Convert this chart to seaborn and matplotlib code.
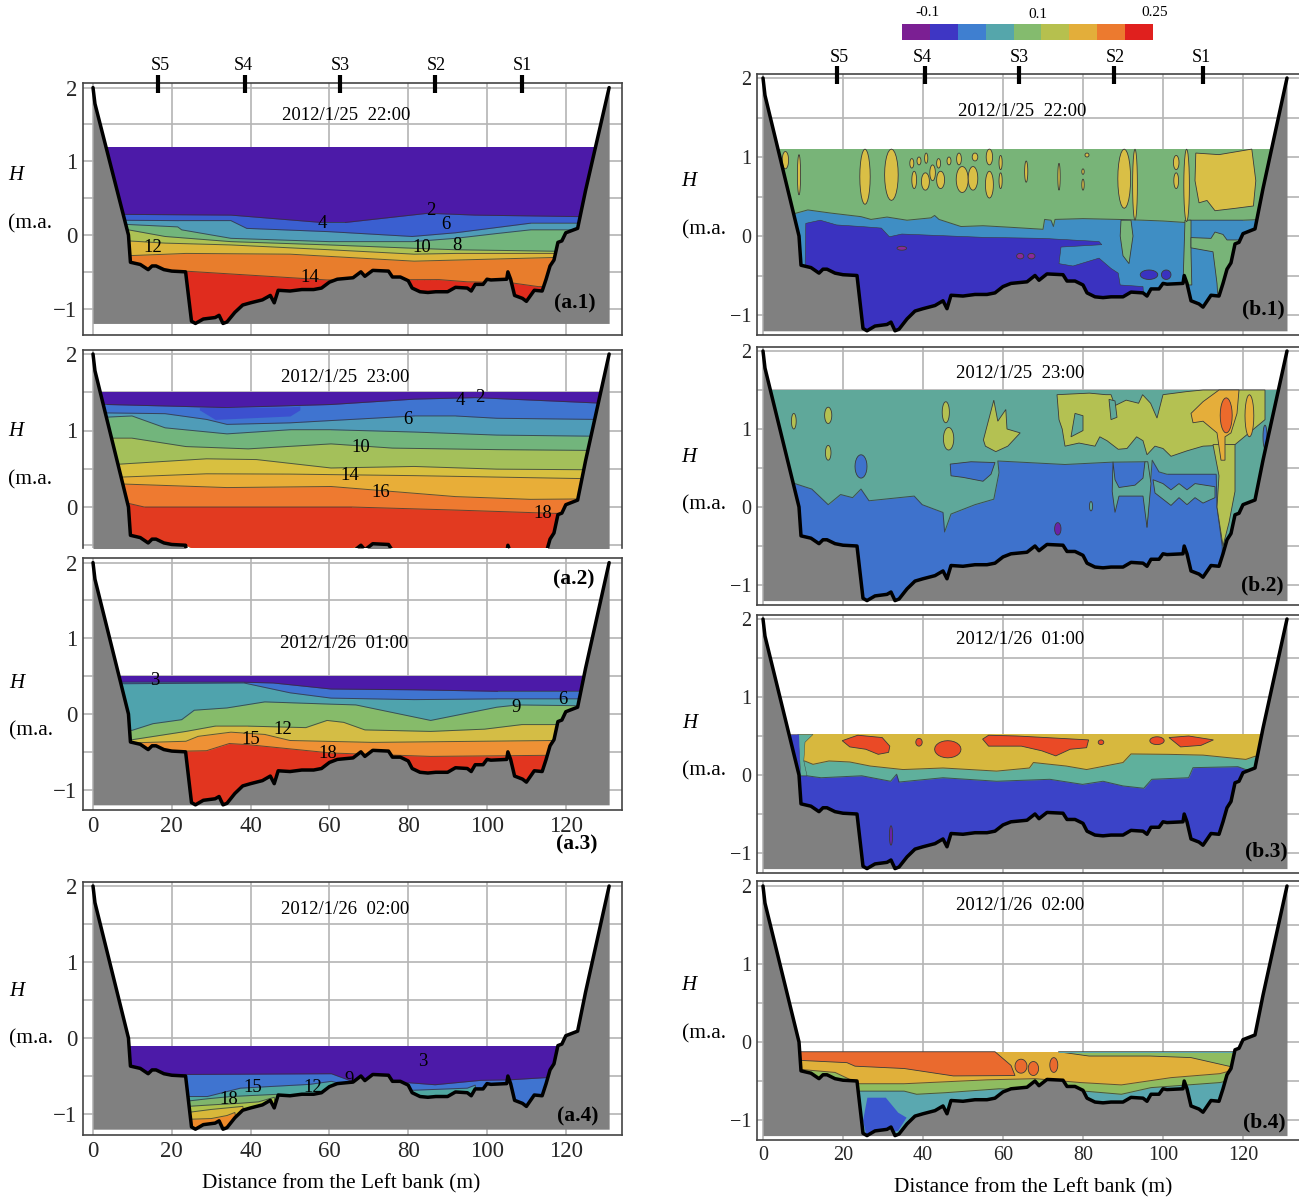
"""Temperature / salinity cross sections at eight times, left and right columns."""
import matplotlib
matplotlib.use('Agg')
import matplotlib.pyplot as plt
from matplotlib.colors import ListedColormap
from matplotlib.patches import Polygon
import numpy as np
import seaborn as sns

# river bed, shared by all panels
bed_x = [0, 0.5, 9, 9.5, 12, 14, 15, 16, 18, 20, 23.5, 25, 26, 28, 31, 32, 33, 34, 36, 38, 40, 43, 45, 46, 47,
         50, 53, 56, 58, 60, 62, 66, 68, 69, 71, 75, 76, 78, 80, 81, 83, 85, 87, 90, 92, 95, 96, 97, 99, 100,
         101, 105, 105.3, 106, 107, 109, 110, 112, 114, 115, 116, 117, 118, 119, 120, 123, 125, 128, 131]
bed_y = [2.0, 1.78, 0.0, -0.37, -0.40, -0.47, -0.42, -0.42, -0.47, -0.49, -0.5, -1.17, -1.2, -1.14, -1.12, -1.09,
         -1.2, -1.18, -1.05, -0.95, -0.92, -0.88, -0.82, -0.92, -0.75, -0.76, -0.74, -0.74, -0.72, -0.64, -0.6,
         -0.58, -0.5, -0.56, -0.48, -0.49, -0.57, -0.57, -0.62, -0.72, -0.77, -0.78, -0.77, -0.77, -0.71, -0.72,
         -0.76, -0.67, -0.67, -0.6, -0.61, -0.6, -0.5, -0.6, -0.82, -0.86, -0.9, -0.75, -0.76, -0.6, -0.42, -0.34,
         -0.1, -0.08, 0.03, 0.09, 0.6, 1.3, 2.0]

# station marks
st_names = ['S5', 'S4', 'S3', 'S2', 'S1']
st_a = [16.5, 38.6, 62.7, 86.8, 109]
st_b = [18.5, 40.5, 64, 87.8, 110]
st_a_text = [160, 243, 340, 436, 522]
st_b_text = [839, 922, 1019, 1115, 1201]

# left column: surface level, then layer interfaces from top to bottom
a1_surface = 1.2
a1_layers = [
    ([8, 35, 58, 64, 85, 97, 123], [.28, .27, .17, .17, .295, .27, .25]),
    ([8, 21.5, 35, 39, 60, 81, 92, 111, 123], [.2, .195, .195, .09, .045, -.02, .03, .16, .16]),
    ([8, 21.5, 22.5, 35, 60, 81, 92, 102.5, 111, 123], [.145, .11, .07, -.045, -.09, -.09, -.045, .02, .07, .07]),
    ([9, 18.3, 35, 60, 81.5, 92, 117], [.07, -.02, -.09, -.135, -.18, -.2, -.22]),
    ([9, 18.3, 35, 60, 81.5, 92, 117], [-.08, -.11, -.135, -.2, -.26, -.25, -.25]),
    ([9.4, 23.6, 50, 81.5, 117], [-.28, -.25, -.26, -.355, -.305]),
    ([23.4, 59.4, 87.8, 95, 105.7, 113], [-.49, -.61, -.605, -.635, -.645, -.7]),
]
a2_surface = 1.5
a2_layers = [
    ([3.6, 34, 60.4, 81.5, 97, 127.8], [1.34, 1.30, 1.34, 1.41, 1.43, 1.36]),
    ([3.6, 18.3, 28.8, 34, 50, 60.4, 81.5, 92, 102.5, 127.8], [1.23, 1.22, 1.145, 1.08, 1.10, 1.13, 1.19, 1.19, 1.16, 1.145]),
    ([3.6, 9.9, 18.3, 34, 50, 60.4, 81.5, 102.5, 127.8], [1.175, 1.19, 1.035, .956, 1.01, 1.01, .98, .94, .925]),
    ([3.6, 9.9, 23.6, 39.4, 60.4, 76, 102.5, 125.6], [.90, .90, .79, .76, .825, .77, .75, .74]),
    ([6.7, 28.8, 41.5, 60.4, 81.5, 102.5, 125.6], [.56, .63, .62, .51, .53, .495, .487]),
    ([6.7, 28.8, 50, 81.5, 125.6], [.39, .434, .43, .41, .37]),
    ([7.8, 34, 60.4, 92, 111, 123.6], [.30, .254, .268, .136, .10, .105]),
    ([8.8, 13, 65.7, 92, 117], [.05, 0, 0, -.04, -.083]),
]
a2_pocket_x = [27, 31, 50, 52.5]
a2_pocket_top = [1.30, 1.30, 1.31, 1.32]
a2_pocket_bot = [1.27, 1.145, 1.19, 1.27]
a3_surface = 0.5
a3_layers = [
    ([7.8, 38.3, 45.7, 60.4, 81.5, 102.5, 123.6], [.42, .42, .41, .33, .32, .30, .30]),
    ([7.8, 38.3, 50, 60.4, 81.5, 102.5, 123.6], [.40, .41, .28, .21, .19, .20, .20]),
    ([9.9, 15.2, 22.5, 25.7, 34, 43.6, 60.4, 66.7, 85.7, 102.5, 107.8, 122.5], [-.216, -.128, -.075, .05, .08, .16, .13, .12, -.085, .09, .12, .11]),
    ([9.9, 23.6, 31, 39.4, 54, 59.4, 63.6, 69, 85.7, 99.4, 108.8, 117.8], [-.34, -.23, -.16, -.16, -.18, -.085, -.11, -.21, -.23, -.2, -.14, -.14]),
    ([11, 23.6, 26.7, 35, 43.6, 50, 71, 117], [-.38, -.36, -.295, -.24, -.27, -.35, -.375, -.35]),
    ([23.6, 28.8, 34.6, 39.4, 60.4, 85.7, 117], [-.49, -.485, -.39, -.405, -.515, -.56, -.545]),
]
a4_surface = -0.1
a4_layers = [
    ([22.5, 60.5, 66.8, 80.5, 86.8, 98.4, 105.8, 115.3], [-.48, -.47, -.59, -.59, -.615, -.557, -.55, -.52]),
    ([23, 29, 37.4, 55, 60.5, 63, 64], [-.77, -.77, -.66, -.61, -.57, -.6, -1.3]),
    ([78, 80, 95, 97, 99], [-1.3, -.69, -.66, -.62, -1.3]),
    ([24, 29, 35, 47, 48], [-.83, -.80, -.77, -.74, -1.3]),
    ([24, 30, 37, 42, 46, 47], [-.9, -.88, -.86, -.84, -.78, -1.3]),
    ([24, 30, 38, 40], [-.98, -.94, -.9, -1.3]),
    ([24, 30, 34, 36, 37], [-1.07, -1.06, -1.02, -.98, -1.3]),
]

# right column
b1_surface = 1.1
b1_layers = [
    ([7.6, 11.2, 17, 24.5, 27, 31, 36, 42, 42.9, 44, 49.5, 55, 62, 70, 70.4, 72, 72.6, 73, 80, 88.8, 95, 100, 106, 106.5, 112, 120, 125],
     [.28, .33, .29, .245, .21, .24, .2, .23, .26, .21, .12, .13, .11, .085, .21, .2, .12, .21, .22, .21, .2, .19, .17, .2, .2, .2, .21]),
]
b1_green = [
    [(89.5, .2), (92, .2), (92.5, 0), (91.5, -.35), (90, -.25), (89.3, 0)],
    [(105.5, .2), (107, .2), (107, -.2), (107.2, -.62), (105, -.62)],
    [(107, -.02), (112, -.03), (113, .05), (115, .02), (116, -.05), (122, -.05), (126, -.05), (126, -1),
     (114, -1), (113.5, -.6), (112.5, -.2), (107, -.15)],
]
b1_deep = [(10.7, .16), (14.3, .2), (18.4, .14), (24.5, .12), (29.6, .1), (31.6, -.01), (34.7, .025), (55, -.017),
           (70, -.03), (84, -.07), (84.7, -.11), (74.5, -.14), (74, -.35), (77.5, -.38), (84, -.28), (87, -.41),
           (88.8, -.47), (89.3, -.62), (95, -.64), (96, -1.4), (10, -1.4), (10.5, -.5)]
b1_deep_spots = [(96.5, -.43, -.55, 2.2), (100.8, -.43, -.55, 1.2)]
b1_purple_spots = [(34.7, -.13, -.18, 1.2), (64.3, -.22, -.29, .9), (67.1, -.22, -.29, .9)]
b1_yellow_spots = [(5.6, 1.07, .85, .8), (9, 1.03, .52, .4), (25.5, 1.1, .4, 1.3), (32.1, 1.1, .45, 1.7),
                   (37.2, .98, .86, .5), (37.8, .82, .6, .6), (39, 1.0, .9, .5), (40.8, 1.05, .92, .4),
                   (40.6, .8, .58, 1.0), (42.4, .9, .7, .7), (43.9, .98, .86, .5), (44.4, .82, .6, 1.0),
                   (46.5, 1.0, .9, .5), (49, 1.05, .9, .6), (49.8, .88, .55, 1.5), (52.5, .88, .58, 1.2),
                   (53, 1.05, .95, .7), (56.6, 1.1, .9, .8), (56.6, .82, .48, 1), (59.4, 1.02, .84, .4),
                   (59.4, .8, .6, .4), (65.8, .95, .68, .4), (74, .92, .58, .3), (80, .85, .78, .3),
                   (80, .72, .58, .3), (81, 1.05, 1.0, .5), (90.3, 1.1, .35, 1.6), (93, 1.1, .2, .6),
                   (103.3, 1.02, .84, .7), (103.3, .8, .6, .6), (105.9, 1.1, .18, .7)]
b1_yellow = [(108.2, 1.05), (114, 1.03), (122.2, 1.1), (123.2, .7), (122.6, .38), (118, .35), (113, .32),
             (111, .45), (109, .42), (108, .7)]

b2_surface = 1.5
b2_layers = [
    ([8, 12.2, 16.3, 19.4, 22.4, 24.5, 26.5, 37.8, 39.8, 45, 45.4, 47, 53, 57.7, 59, 58.7, 75.5, 87.2, 95.5, 96, 97.3,
      99, 101, 113, 113.3, 113.5, 114.8, 115],
     [.30, .23, .03, .16, .12, .23, .08, .14, .03, -.07, -.32, -.09, .03, .1, .44, .59, .545, .575, .58, -.26, .6,
      .45, .42, .42, .42, 0, -.5, -1.3]),
]
b2_teal = [
    [(87.5, .58), (88, .35), (89, .25), (93, .28), (95, .37), (95.5, .58), (96.2, .58), (97, .3), (96, -.26),
     (95, .14), (89, .14), (88, -.07), (87.3, .2)],
    [(97.5, .35), (100, .3), (102, .22), (104, .3), (106, .22), (108, .3), (113, .26), (113, .12), (110, .05),
     (108, .12), (106, .03), (104, .12), (102, .02), (100, .1), (98, .18)],
    [(78, 1.2), (80, 1.17), (80, .98), (77, .9)],
    [(86.5, 1.38), (88, 1.36), (88.5, 1.15), (87, 1.12)],
]
b2_blue = [(46.8, .55), (52, .58), (58, .57), (57, .42), (55, .33), (50, .38), (47, .4)]
b2_blue_spots = [(24.5, .67, .37, 1.5), (125.5, 1.05, .75, .5)]
b2_teal_spots = [(82, .07, -.05, .4)]
b2_yg_spots = [(7.7, 1.2, 1.0, .6), (16.3, 1.28, 1.07, .9), (16.3, .79, .6, .7), (45.7, 1.35, 1.08, .9),
               (46.4, 1.02, .73, 1.3)]
b2_yg = [
    [(55.1, .86), (57.7, 1.37), (58.7, 1.1), (60.7, 1.25), (61, 1.0), (64.3, .95), (61.2, .78), (58.2, .71), (55.6, .78)],
    [(73.5, 1.44), (81.6, 1.46), (85.7, 1.44), (87, 1.44), (88, 1.3), (90.8, 1.37), (93.9, 1.33), (94.9, 1.44), (96.9, 1.33),
     (98.5, 1.14), (100, 1.44), (106, 1.48), (110, 1.5), (125.5, 1.5), (125.5, 1.12), (118, .8), (110, .78),
     (106, .72), (102, .65), (100, .75), (98, .78), (96, .67), (95, .85), (93.4, .9), (91, .75), (88.8, .74), (86, .85),
     (84.2, .9), (83, .78), (79, .82), (75.5, .78), (74.8, 1.0), (74, 1.12)],
    [(112.5, .8), (118, .8), (118, .2), (116.5, -.2), (115, -.5), (113.5, 0), (114, .4)],
]
b2_amber = [(107, 1.2), (110, 1.35), (114, 1.5), (119, 1.5), (118.5, 1.2), (117, .95), (115.5, .9), (115.5, .6),
            (114.5, .6), (113.5, .95), (110, 1.1), (107.5, 1.08)]
b2_amber_spots = [(121.6, 1.44, .9, 1.1)]
b2_orange_spots = [(115.8, 1.4, .95, 1.5)]
b2_purple_spots = [(73.7, -.2, -.36, .8)]

b3_surface = 0.52
b3_layers = [
    ([10.4, 12.5, 16.5, 21.7, 26.8, 35, 45, 58.4, 66.6, 67.6, 75.8, 80.9, 90, 92, 101.3, 110, 120.7, 123],
     [.18, .137, .18, .167, .115, .07, .09, .05, .09, .16, .115, .07, .16, .27, .265, .255, .2, .24]),
    ([11, 14.5, 24.7, 31.9, 33.4, 34, 45, 58.4, 71.7, 79.9, 85, 90, 95.2, 97.2, 106.4, 107.5, 118.7, 120.7],
     [-.01, -.035, -.01, -.08, .01, -.09, -.035, -.08, -.055, -.12, -.08, -.14, -.17, -.055, -.035, .094, .107, .07]),
]
b3_teal = [(8.7, .52), (12.5, .52), (10.5, .42), (10.2, .18), (11, -.01), (9.4, -.01), (9.2, .2)]
b3_blue = [(6, .52), (9, .52), (9.4, -.1), (8, -.1)]
b3_red = [
    [(19.8, .44), (23.7, .51), (29.8, .48), (31.7, .37), (31.4, .29), (28.8, .265), (25.7, .33), (21.7, .36)],
    [(54.9, .46), (56.4, .51), (63.5, .5), (70.7, .48), (81.4, .45), (80.9, .35), (76.8, .33), (73.2, .245),
     (69.7, .31), (64.6, .37), (56.4, .37)],
    [(101.5, .48), (106.4, .5), (112.6, .45), (109.5, .38), (104.4, .36)],
]
b3_red_spots = [(39, .47, .37, .8), (46.2, .44, .22, 3.3), (84.5, .45, .39, .7), (98.5, .49, .39, 1.8)]
b3_purple_spots = [(32, -.65, -.9, .4)]

b4_surface = -0.125
b4_layers = [
    ([9, 18, 24, 35.3, 56, 68, 79.4, 89.6, 102, 114.2, 116.8],
     [-.35, -.39, -.535, -.535, -.485, -.47, -.52, -.55, -.457, -.406, -.37]),
    ([24, 35.3, 38.4, 45.6, 59, 80.4, 89.6, 97, 114.2, 116],
     [-.63, -.63, -.67, -.65, -.6, -.63, -.67, -.585, -.52, -.5]),
]
b4_orange = [(9, -.125), (58, -.125), (62, -.3), (63, -.43), (47.6, -.435), (35.3, -.34), (23, -.31), (21, -.265),
             (9, -.235)]
b4_top_green = [(73.8, -.125), (81.5, -.18), (96.8, -.18), (107, -.2), (117.3, -.32), (119, -.3), (119, -.125)]
b4_top_teal = [(74, -.125), (119, -.125), (119, -.14), (74, -.14)]
b4_blue = [(26.1, -.714), (30.7, -.714), (33.8, -.906), (35.9, -.97), (33.8, -1.14), (26, -1.23), (25, -1.01)]
b4_orange_spots = [(64.5, -.22, -.40, 1.5), (67.6, -.25, -.43, 1.3), (72.7, -.2, -.39, 1)]

scale_cells = [[0, 1, 2, 3, 4, 5, 6, 7, 8]]
scale_colors = ['#7b1f93', '#3e36c4', '#3f7fd0', '#55a6ab', '#84bb6e', '#b6c04e', '#e3ae3a', '#ec7a2f', '#e0201e']

# contour labels in figure pixels
a_labels = [('2', 431, 208), ('4', 322, 221), ('6', 446, 222), ('8', 457, 243), ('10', 422, 246), ('12', 153, 246),
            ('14', 310, 275), ('2', 480, 396), ('4', 460, 399), ('6', 408, 417), ('10', 361, 445), ('14', 350, 474),
            ('16', 381, 490), ('18', 543, 511), ('3', 155, 678), ('6', 563, 698), ('9', 516, 705), ('12', 283, 727),
            ('15', 251, 737), ('18', 328, 752), ('3', 423, 1059), ('9', 349, 1077), ('12', 313, 1086),
            ('15', 253, 1086), ('18', 229, 1097)]

PURPLE = '#4c1aa8'
BLUE = '#3f74d0'
TEAL = '#4f9cb8'
GREEN = '#72b57c'
YG = '#aec254'
YELLOW = '#dcb63c'
AMBER = '#e8ae38'
ORANGE = '#e87d2c'
RED = '#e02c1e'
GRAY = '#808080'

sns.set_theme(style='white')
plt.rcParams['font.family'] = ['Liberation Serif', 'DejaVu Sans']
plt.rcParams['axes.unicode_minus'] = True

W, H = 1299, 1202
fig = plt.figure(figsize=(W / 100, H / 100), dpi=100, facecolor='white')


def pxt(x, y, s, **kw):
    kw.setdefault('ha', 'center')
    kw.setdefault('va', 'center')
    kw.setdefault('color', 'black')
    return fig.text(x / W, 1 - (y + 2) / H, s, **kw)


def make_axes(left, right, top, bottom, x0, xs, y0, ys, xlabels=False, ticks_y=(2, 1, 0, -1), fs=16.5):
    ax = fig.add_axes([left / W, 1 - bottom / H, (right - left) / W, (bottom - top) / H])
    ax.set_xlim((left - x0) / xs, (right - x0) / xs)
    ax.set_ylim((y0 - bottom) / ys, (y0 - top) / ys)
    ax.set_facecolor('white')
    for sp in ax.spines.values():
        sp.set_color('#444444')
        sp.set_linewidth(1.2)
    ax.set_xticks([0, 20, 40, 60, 80, 100, 120])
    ax.set_yticks(list(ticks_y))
    ax.set_yticks([1.5, 0.5, -0.5], minor=True)
    ax.grid(True, which='both', color='#b4b4b4', lw=1.2)
    ax.set_axisbelow(True)
    ax.tick_params(axis='both', length=3, direction='in', color='#444444', labelsize=fs, pad=4)
    ax.tick_params(axis='y', which='minor', length=0)
    if not xlabels:
        ax.tick_params(axis='x', labelbottom=False)
    return ax


def draw_line(ax, xs, ys, clip, color='#333333', lw=0.7, alpha=0.75):
    sns.lineplot(x=xs, y=ys, ax=ax, sort=False, estimator=None, color=color, lw=lw, alpha=alpha, zorder=3)
    ax.lines[-1].set_clip_path(clip)


def band(ax, xs, ys, color, clip, zorder=2, line=True):
    xs = [0] + list(xs) + [131]
    ys = [ys[0]] + list(ys) + [ys[-1]]
    art = ax.fill_between(xs, ys, -1.5, color=color, lw=0, zorder=zorder)
    art.set_clip_path(clip)
    if line:
        draw_line(ax, xs, ys, clip)


def patch(ax, pts, color, clip, edge='#3a3a3a', lw=0.6):
    arr = np.array(pts)
    art = ax.fill(arr[:, 0], arr[:, 1], facecolor=color, edgecolor=edge, lw=lw, zorder=4)[0]
    art.set_clip_path(clip)


def spot(ax, spec, color, clip):
    # small closed contour: centre x, top, bottom, half width
    x, top, bot, w = spec
    t = np.linspace(0, 2 * np.pi, 24, endpoint=False)
    pts = np.column_stack([x + w * np.sin(t), (top + bot) / 2 + (top - bot) / 2 * np.cos(t)])
    patch(ax, pts, color, clip)


def base(ax, surface, color):
    # clip region follows the bed, cut at the lower axis limit
    low = ax.get_ylim()[0]
    clip = Polygon(np.column_stack([bed_x, np.maximum(bed_y, low)]), closed=True, transform=ax.transData)
    art = ax.fill_between([0, 131], surface, -1.5, color=color, lw=0, zorder=2)
    art.set_clip_path(clip)
    return clip


def finish(ax):
    ax.fill_between(bed_x, bed_y, -1.2, color=GRAY, lw=0, zorder=5)
    sns.lineplot(x=bed_x, y=bed_y, ax=ax, sort=False, estimator=None, color='black', lw=2.5, zorder=6)


def stations(ax, positions, label_x, ylab, scale):
    top = ax.get_ylim()[1]
    for name, sx, lx in zip(st_names, positions, label_x):
        sns.lineplot(x=[sx, sx], y=[top + 8 / scale, top - 10 / scale], ax=ax, sort=False, estimator=None,
                     color='black', lw=3, zorder=7)
        ax.lines[-1].set_clip_on(False)
        ax.lines[-1].set_solid_capstyle('butt')
        pxt(lx, ylab, name, fontsize=13)


# left column
ax = make_axes(83, 622, 83, 335, 93, 3.94, 235, 73.7)
clip = base(ax, a1_surface, PURPLE)
for (xs, ys), c in zip(a1_layers, ['#3a5fd0', '#4f9cb8', GREEN, YG, YELLOW, ORANGE, RED]):
    band(ax, xs, ys, c, clip)
finish(ax)
stations(ax, st_a, st_a_text, 64, 73.7)

ax = make_axes(83, 622, 350, 548, 93, 3.94, 507, 76.5, ticks_y=(2, 1, 0))
ax.spines['bottom'].set_visible(False)
clip = base(ax, a2_surface, PURPLE)
for (xs, ys), c in zip(a2_layers, [BLUE, TEAL, GREEN, '#a4c05a', '#d8c040', AMBER, '#ee7a30', '#e23a20']):
    band(ax, xs, ys, c, clip)
art = ax.fill_between(a2_pocket_x, a2_pocket_top, a2_pocket_bot, color='#3c50cf', lw=0, zorder=3)
art.set_clip_path(clip)
finish(ax)

ax = make_axes(83, 622, 558, 810, 93, 3.94, 714, 75.7, xlabels=True)
clip = base(ax, a3_surface, PURPLE)
for (xs, ys), c in zip(a3_layers, [BLUE, '#4fa3ad', '#86bb6a', '#d4bd45', '#ee9135', '#e2351f']):
    band(ax, xs, ys, c, clip)
finish(ax)

ax = make_axes(83, 622, 882, 1135, 93, 3.94, 1038, 76, xlabels=True)
clip = base(ax, a4_surface, PURPLE)
for (xs, ys), c in zip(a4_layers, [BLUE, '#4fa7a0', '#4fa7a0', '#7fb56c', '#aec24c', '#d8b83a', '#ee8a2a']):
    band(ax, xs, ys, c, clip)
finish(ax)

# right column
R_FS = 14.5
ax = make_axes(757, 1299, 74, 335, 763, 4.0, 236, 79, fs=R_FS)
ax.spines['right'].set_visible(False)
clip = base(ax, b1_surface, '#78b478')
band(ax, b1_layers[0][0], b1_layers[0][1], '#3f8ec4', clip)
patch(ax, b1_deep, '#3a32c0', clip, lw=0.4)
for pts in b1_green:
    patch(ax, pts, '#78b478', clip)
patch(ax, b1_yellow, '#d9bf46', clip)
for spec in b1_yellow_spots:
    spot(ax, spec, '#d9bf46', clip)
for spec in b1_deep_spots:
    spot(ax, spec, '#3a32c0', clip)
for spec in b1_purple_spots:
    spot(ax, spec, '#8a2a9a', clip)
finish(ax)
stations(ax, st_b, st_b_text, 56, 79)

ax = make_axes(757, 1299, 347, 605, 763, 4.0, 507, 78, fs=R_FS)
ax.spines['right'].set_visible(False)
clip = base(ax, b2_surface, '#5fa89a')
band(ax, b2_layers[0][0], b2_layers[0][1], '#3e72cc', clip)
for pts in b2_yg:
    patch(ax, pts, '#b4c152', clip)
for pts in b2_teal:
    patch(ax, pts, '#5fa89a', clip)
patch(ax, b2_blue, '#3e72cc', clip)
for spec in b2_blue_spots:
    spot(ax, spec, '#3e72cc', clip)
for spec in b2_teal_spots:
    spot(ax, spec, '#5fa89a', clip)
for spec in b2_yg_spots:
    spot(ax, spec, '#b4c152', clip)
patch(ax, b2_amber, '#e5ae3a', clip)
for spec in b2_amber_spots:
    spot(ax, spec, '#e5ae3a', clip)
for spec in b2_orange_spots:
    spot(ax, spec, '#ec6a2c', clip)
for spec in b2_purple_spots:
    spot(ax, spec, '#6a22a8', clip)
finish(ax)

ax = make_axes(757, 1299, 615, 873, 763, 4.0, 775, 78, fs=R_FS)
ax.spines['right'].set_visible(False)
clip = base(ax, b3_surface, '#d7b83e')
band(ax, b3_layers[0][0], b3_layers[0][1], '#5fb09c', clip)
band(ax, b3_layers[1][0], b3_layers[1][1], '#3b43c8', clip)
patch(ax, b3_teal, '#5fb09c', clip, lw=0.3)
patch(ax, b3_blue, '#3b43c8', clip, lw=0)
for pts in b3_red:
    patch(ax, pts, '#ea4a26', clip)
for spec in b3_red_spots:
    spot(ax, spec, '#ea4a26', clip)
for spec in b3_purple_spots:
    spot(ax, spec, '#6a22a8', clip)
finish(ax)

ax = make_axes(757, 1299, 881, 1140, 763, 4.0, 1042, 78, xlabels=True, fs=R_FS)
ax.spines['right'].set_visible(False)
clip = base(ax, b4_surface, '#e0b03a')
band(ax, b4_layers[0][0], b4_layers[0][1], '#8fbc60', clip)
band(ax, b4_layers[1][0], b4_layers[1][1], '#5aa8b0', clip)
patch(ax, b4_orange, '#ea6a2e', clip)
patch(ax, b4_top_green, '#8fbc60', clip)
patch(ax, b4_top_teal, '#5aa8b0', clip, lw=0)
patch(ax, b4_blue, '#3a56cf', clip, lw=0)
for spec in b4_orange_spots:
    spot(ax, spec, '#ea6a2e', clip)
finish(ax)

# colour strip
cax = fig.add_axes([902 / W, 1 - 40 / H, 251 / W, 16 / H])
sns.heatmap(scale_cells, ax=cax, cmap=ListedColormap(scale_colors), cbar=False, xticklabels=False,
            yticklabels=False, vmin=-0.5, vmax=8.5)
pxt(927, 11, '-0.1', fontsize=11)
pxt(1038, 12, '0.1', fontsize=11)
pxt(1155, 11, '0.25', fontsize=11)

# timestamps
for x, y, s in [(346, 114, '2012/1/25  22:00'), (345, 376, '2012/1/25  23:00'), (344, 642, '2012/1/26  01:00'),
                (345, 907, '2012/1/26  02:00'), (1022, 110, '2012/1/25  22:00'), (1020, 372, '2012/1/25  23:00'),
                (1020, 638, '2012/1/26  01:00'), (1020, 903, '2012/1/26  02:00')]:
    pxt(x, y, s, fontsize=13.5)

# axis names
for x, y in [(16, 173), (16, 430), (17, 681), (17, 989), (689, 179), (689, 455), (690, 721), (689, 984)]:
    pxt(x, y, 'H', fontsize=15, style='italic')
for x, y in [(30, 222), (30, 478), (31, 729), (31, 1037), (704, 228), (704, 503), (704, 769), (704, 1032)]:
    pxt(x, y, '(m.a.', fontsize=15.5)

for x, y, s in [(575, 301, '(a.1)'), (574, 577, '(a.2)'), (577, 842, '(a.3)'), (578, 1114, '(a.4)'),
                (1263, 307, '(b.1)'), (1262, 583, '(b.2)'), (1266, 849, '(b.3)'), (1264, 1120, '(b.4)')]:
    t = pxt(x, y, s, fontsize=15.5, fontweight='bold')
    t.set_zorder(10)

for s, x, y in a_labels:
    t = pxt(x, y, s, fontsize=13.5)
    t.set_zorder(10)

pxt(341, 1182, 'Distance from the Left bank (m)', fontsize=15.4)
pxt(1033, 1186, 'Distance from the Left bank (m)', fontsize=15.4)

fig.savefig('out.png', dpi=100, facecolor='white')
